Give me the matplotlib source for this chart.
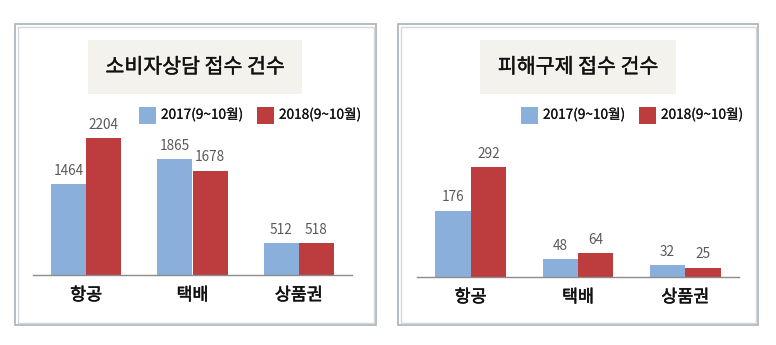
import matplotlib
matplotlib.use("Agg")
import matplotlib.pyplot as plt
import matplotlib.patheffects as pe
from matplotlib.patches import Rectangle

plt.rcParams['font.family'] = ['Noto Sans CJK KR', 'DejaVu Sans']

categories = ['항공', '택배', '상품권']
series_names = ['2017(9~10월)', '2018(9~10월)']
consult_2017 = [1464, 1865, 512]
consult_2018 = [2204, 1678, 518]
relief_2017 = [176, 48, 32]
relief_2018 = [292, 64, 25]
titles = ['소비자상담 접수 건수', '피해구제 접수 건수']

BLUE = '#8aafda'
RED = '#bd3c3d'
W, H = 776, 345

fig = plt.figure(figsize=(W / 100, H / 100), dpi=100)
fig.patch.set_facecolor('white')

def thick(w):
    return [pe.withStroke(linewidth=w, foreground='#111111')]


def fx(px):
    return px / W


def fy(py):
    return 1 - py / H


def rect(x0, y0, x1, y1, **kw):
    fig.add_artist(Rectangle((fx(x0), fy(y1)), fx(x1) - fx(x0), fy(y0) - fy(y1),
                             transform=fig.transFigure, **kw))


def panel(frame, tbox, leg, axbox, ylim, v17, v18, title):
    # double frame
    rect(frame[0], frame[1], frame[2], frame[3], fill=False, ec='#a9b1b7', lw=1.2)
    rect(frame[0] + 2.5, frame[1] + 2.5, frame[2] - 2.5, frame[3] - 2.5,
         fill=False, ec='#d2d7db', lw=1.0)
    # title box
    rect(*tbox, fc='#f3f2ec', ec='none')
    fig.text(fx((tbox[0] + tbox[2]) / 2), fy((tbox[1] + tbox[3]) / 2), title,
             ha='center', va='center', fontsize=14.8, color='#111111',
             path_effects=thick(0.3))
    # legend
    for (lx, col, name) in zip(leg, [BLUE, RED], series_names):
        rect(lx, 107, lx + 17, 124, fc=col, ec='none')
        fig.text(fx(lx + 22), fy(114.5), name, ha='left', va='center',
                 fontsize=9.8, color='#111111', path_effects=thick(0.15))
    # axes
    x0, x1, ybase, ytop = axbox
    ax = fig.add_axes([fx(x0), fy(ybase), fx(x1) - fx(x0), fy(ytop) - fy(ybase)])
    ax.set_facecolor('none')
    xs = list(range(len(categories)))
    w = 0.33
    b1 = ax.bar([x - w / 2 for x in xs], v17, width=w, color=BLUE, zorder=2)
    b2 = ax.bar([x + w / 2 for x in xs], v18, width=w, color=RED, zorder=2)
    for bars, vals in ((b1, v17), (b2, v18)):
        for b, v in zip(bars, vals):
            ax.annotate(str(v), (b.get_x() + b.get_width() / 2, v),
                        xytext=(0, 4.5), textcoords='offset points',
                        ha='center', va='bottom', fontsize=9.8, color='#595959')
    ax.set_xlim(-0.5, 2.5)
    ax.set_ylim(0, ylim)
    for s in ['top', 'right', 'left']:
        ax.spines[s].set_visible(False)
    ax.spines['bottom'].set_color('#8c8c8c')
    ax.spines['bottom'].set_linewidth(1.0)
    ax.set_yticks([])
    ax.set_xticks(xs)
    ax.set_xticklabels(categories, fontsize=12.5, color='#111111')
    for t in ax.get_xticklabels():
        t.set_path_effects(thick(0.4))
    ax.tick_params(axis='x', length=0, pad=8)
    return ax


panel((15, 24, 376, 325), (88, 40, 302, 94), (139, 257), (33, 352, 275, 100),
      175 / 0.0622, consult_2017, consult_2018, titles[0])
panel((398, 24, 758, 325), (480, 40, 676, 94), (521, 639), (417, 739, 277, 102),
      175 / 0.377, relief_2017, relief_2018, titles[1])

fig.savefig('out.png', dpi=100, facecolor='white')
